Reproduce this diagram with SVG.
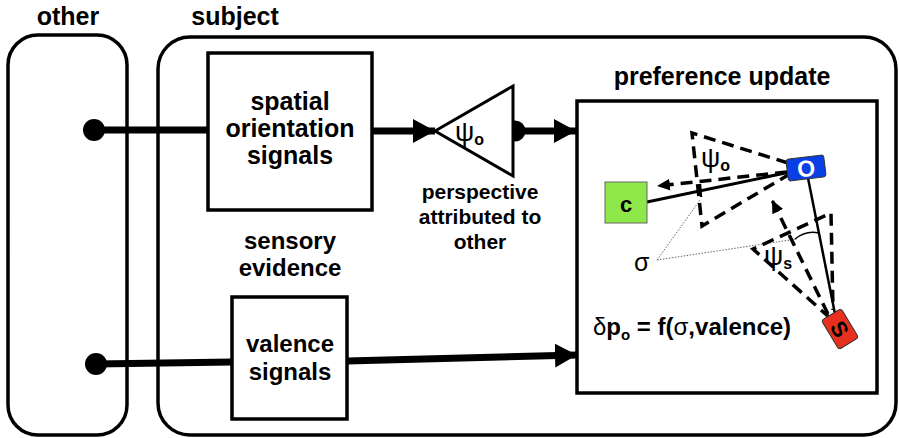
<svg xmlns="http://www.w3.org/2000/svg" width="899" height="438" viewBox="0 0 899 438">
<defs>
<style>
.frame{fill:#fff;stroke:#000;stroke-width:3.5}
.t{font-family:"Liberation Sans",Arial,sans-serif;font-weight:bold;fill:#000;text-anchor:middle}
.thick{stroke:#000;stroke-width:7;fill:none}
.dash{stroke:#000;stroke-width:3.5;fill:none;stroke-dasharray:12 7}
.dot{stroke:#555;stroke-width:0.9;fill:none;stroke-dasharray:1.5 1.5}
.g{font-family:"Liberation Sans",Arial,sans-serif;fill:#000}
</style>
<marker id="bigArrow" markerUnits="userSpaceOnUse" markerWidth="24" markerHeight="24" refX="22" refY="12" orient="auto">
<path d="M0,0 L22,12 L0,24 z" fill="#000"/>
</marker>
<marker id="smallArrow" markerUnits="userSpaceOnUse" markerWidth="14" markerHeight="14" refX="13" refY="7" orient="auto">
<path d="M0,1 L13,7 L0,13 z" fill="#000"/>
</marker>
</defs>
<rect width="899" height="438" fill="#fff"/>

<g id="other">
<rect class="frame" x="8" y="35" width="119" height="400" rx="30"/>
<text class="t" x="68" y="25" font-size="25">other</text>
</g>

<g id="subject">
<rect class="frame" x="158" y="37" width="738" height="398" rx="32"/>
<text class="t" x="235" y="25" font-size="25">subject</text>
<text class="t" x="290" y="249" font-size="24">sensory</text>
<text class="t" x="290" y="276" font-size="24">evidence</text>
</g>

<g id="connectors">
<line class="thick" x1="94" y1="130" x2="208" y2="130"/>
<line class="thick" x1="372" y1="131" x2="435" y2="131" marker-end="url(#bigArrow)"/>
<line class="thick" x1="515" y1="131" x2="576" y2="131" marker-end="url(#bigArrow)"/>
<line class="thick" x1="96" y1="364" x2="232" y2="362"/>
<line class="thick" x1="347" y1="361" x2="577" y2="355" marker-end="url(#bigArrow)"/>
<circle cx="94" cy="130" r="11" fill="#000"/>
<circle cx="96" cy="364" r="11" fill="#000"/>
<circle cx="515" cy="131" r="10.5" fill="#000"/>
</g>

<g id="spatial">
<rect class="frame" x="208" y="53" width="164" height="157"/>
<text class="t" x="290" y="110" font-size="25">spatial</text>
<text class="t" x="290" y="137" font-size="25">orientation</text>
<text class="t" x="290" y="164" font-size="25">signals</text>
</g>

<g id="valence">
<rect class="frame" x="232" y="297" width="115" height="122"/>
<text class="t" x="290" y="352" font-size="24">valence</text>
<text class="t" x="290" y="380" font-size="24">signals</text>
</g>

<g id="perspective">
<polygon points="435,131 513,86 513,176" fill="#fff" stroke="#000" stroke-width="3"/>
<text class="g" x="455" y="141" font-size="27">ψ<tspan font-size="16" font-weight="bold" dy="4">o</tspan></text>
<text class="t" x="480" y="199" font-size="21">perspective</text>
<text class="t" x="480" y="224" font-size="21">attributed to</text>
<text class="t" x="480" y="249" font-size="21">other</text>
</g>

<g id="preference">
<rect class="frame" x="577" y="101" width="300" height="292"/>
<text class="t" x="722" y="85" font-size="25">preference update</text>

<line class="dot" x1="657" y1="260" x2="700" y2="200"/>
<line class="dot" x1="657" y1="260" x2="797" y2="239"/>
<path d="M795,239 Q806,230 819,233" fill="none" stroke="#000" stroke-width="1.5"/>
<line x1="647" y1="202" x2="790" y2="172" stroke="#000" stroke-width="3"/>
<line x1="808" y1="178" x2="835" y2="314" stroke="#000" stroke-width="2.5"/>
<line x1="700" y1="184" x2="701" y2="197" stroke="#000" stroke-width="2.5"/>

<polyline class="dash" points="788,163 692,133 702,226 788,175"/>
<line class="dash" x1="787" y1="172" x2="657" y2="186" marker-end="url(#smallArrow)"/>
<polyline class="dash" points="830,318 753,249 831,213 833,310"/>
<line class="dash" x1="828" y1="314" x2="772" y2="200" marker-end="url(#smallArrow)"/>

<g id="node-c">
<rect x="605" y="182" width="42" height="41" fill="#8fe84a" stroke="#666" stroke-width="1"/>
<text class="t" x="626" y="212" font-size="22">c</text>
</g>
<g id="node-o" transform="translate(806,168) rotate(-7)">
<rect x="-19" y="-11" width="38" height="22" rx="3" fill="#0a3fe6" stroke="#333" stroke-width="1"/>
<text class="t" x="0" y="8.5" font-size="23" style="fill:#fff">O</text>
</g>
<g id="node-s" transform="translate(840,329) rotate(59)">
<rect x="-17" y="-11.5" width="34" height="23" rx="3" fill="#e8301e" stroke="#333" stroke-width="1"/>
<text class="t" x="0" y="8" font-size="22">S</text>
</g>

<text class="g" x="701" y="167" font-size="27">ψ<tspan font-size="16" font-weight="bold" dy="4">o</tspan></text>
<text class="g" x="764" y="265" font-size="27">ψ<tspan font-size="16" font-weight="bold" dy="4">s</tspan></text>
<text class="g" x="634" y="271" font-size="25">σ</text>
<text class="g" x="593" y="335" font-size="24">δ<tspan font-weight="bold">p</tspan><tspan font-size="15" font-weight="bold" dy="5">o</tspan><tspan font-weight="bold" dy="-5"> = f(</tspan>σ<tspan font-weight="bold">,valence)</tspan></text>
</g>
</svg>
